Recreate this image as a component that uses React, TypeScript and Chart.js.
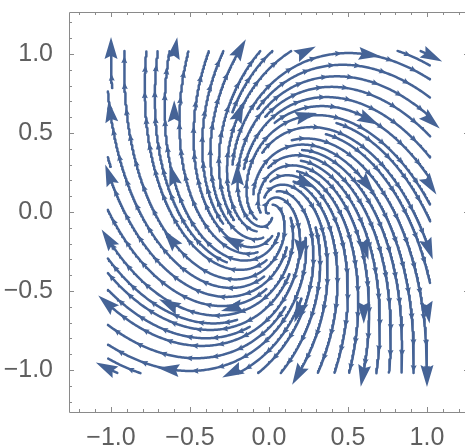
import React, { useEffect, useRef } from "react";
import { Chart, registerables } from "chart.js";

Chart.register(...registerables);

// Vector field read from the arrow directions: v = (a0*x + a1*y, b0*x + b1*y)
const fieldXCoef = [1, 1];
const fieldYCoef = [-2, 1];
// Positions (both axes) where the large arrows sit
const markerGrid = [-1, -0.6, -0.2, 0.2, 0.6, 1];
// Axis
const tickValues = [-1, -0.5, 0, 0.5, 1];
const axisRange = [-1.266, 1.266];
const streamDomain = [-1.02, 1.02];

const LINE_COLOR = "rgb(69,99,150)";
const CANVAS_W = 476;
const CANVAS_H = 447;

function field(x: number, y: number): [number, number] {
  return [fieldXCoef[0] * x + fieldXCoef[1] * y, fieldYCoef[0] * x + fieldYCoef[1] * y];
}

function dirAt(x: number, y: number): [number, number] | null {
  const [vx, vy] = field(x, y);
  const m = Math.hypot(vx, vy);
  if (m < 1e-7) return null;
  return [vx / m, vy / m];
}

function computeStreamlines(): { x: number; y: number }[][] {
  const dsep = 0.07;
  const dtest = 0.034;
  const h = 0.004;
  const lo = streamDomain[0];
  const hi = streamDomain[1];
  const cell = dsep;
  const n = Math.ceil((hi - lo) / cell) + 2;
  const buckets: number[][] = Array.from({ length: n * n }, () => []);
  const ci = (v: number) => Math.max(0, Math.min(n - 1, Math.floor((v - lo) / cell)));
  const insert = (x: number, y: number) => {
    buckets[ci(x) + ci(y) * n].push(x, y);
  };
  const near = (x: number, y: number, d: number) => {
    const i = ci(x);
    const j = ci(y);
    const d2 = d * d;
    for (let di = -1; di <= 1; di++) {
      for (let dj = -1; dj <= 1; dj++) {
        const ii = i + di;
        const jj = j + dj;
        if (ii < 0 || jj < 0 || ii >= n || jj >= n) continue;
        const b = buckets[ii + jj * n];
        for (let k = 0; k < b.length; k += 2) {
          const dx = b[k] - x;
          const dy = b[k + 1] - y;
          if (dx * dx + dy * dy < d2) return true;
        }
      }
    }
    return false;
  };
  const inDomain = (x: number, y: number) => x >= lo && x <= hi && y >= lo && y <= hi;

  const trace = (sx: number, sy: number, s: number) => {
    const out: [number, number][] = [];
    let x = sx;
    let y = sy;
    for (let k = 0; k < 5000; k++) {
      const d1 = dirAt(x, y);
      if (!d1) break;
      const mx = x + s * h * 0.5 * d1[0];
      const my = y + s * h * 0.5 * d1[1];
      const d2 = dirAt(mx, my);
      if (!d2) break;
      if (d1[0] * d2[0] + d1[1] * d2[1] < 0.5) break;
      const nx = x + s * h * d2[0];
      const ny = y + s * h * d2[1];
      if (!inDomain(nx, ny)) break;
      if (Math.hypot(nx, ny) < 0.008) break;
      if (near(nx, ny, dtest)) break;
      out.push([nx, ny]);
      x = nx;
      y = ny;
    }
    return out;
  };

  const makeLine = (sx: number, sy: number) => {
    const back = trace(sx, sy, -1).reverse();
    const fwd = trace(sx, sy, 1);
    const pts: [number, number][] = [...back, [sx, sy], ...fwd];
    if (pts.length * h < 0.04) return null;
    pts.forEach((p) => insert(p[0], p[1]));
    return pts;
  };

  const lines: [number, number][][] = [];
  for (const gx of markerGrid) {
    for (const gy of markerGrid) {
      if (!near(gx, gy, dsep)) {
        const l = makeLine(gx, gy);
        if (l) lines.push(l);
      }
    }
  }
  let qi = 0;
  while (qi < lines.length) {
    const l = lines[qi++];
    for (let k = 0; k < l.length; k += 3) {
      const [x, y] = l[k];
      const d = dirAt(x, y);
      if (!d) continue;
      for (const s of [1, -1]) {
        const cx = x - s * d[1] * dsep;
        const cy = y + s * d[0] * dsep;
        if (inDomain(cx, cy) && !near(cx, cy, dsep * 0.98)) {
          const nl = makeLine(cx, cy);
          if (nl) lines.push(nl);
        }
      }
    }
  }
  return lines.map((l) => {
    const out: { x: number; y: number }[] = [];
    for (let k = 0; k < l.length; k += 2) out.push({ x: l[k][0], y: l[k][1] });
    const last = l[l.length - 1];
    out.push({ x: last[0], y: last[1] });
    return out;
  });
}

function drawHead(
  ctx: CanvasRenderingContext2D,
  tx: number,
  ty: number,
  ux: number,
  uy: number,
  L: number,
  W: number,
  notch: number
) {
  const nx = -uy;
  const ny = ux;
  ctx.beginPath();
  ctx.moveTo(tx, ty);
  ctx.lineTo(tx - L * ux + W * nx, ty - L * uy + W * ny);
  ctx.lineTo(tx - notch * L * ux, ty - notch * L * uy);
  ctx.lineTo(tx - L * ux - W * nx, ty - L * uy - W * ny);
  ctx.closePath();
  ctx.fill();
}

function fmt(v: number) {
  const s = Math.abs(v).toFixed(1);
  return v < -1e-9 ? "\u2212" + s : s;
}

export default function App() {
  const ref = useRef<HTMLCanvasElement>(null);
  useEffect(() => {
    if (!ref.current) return;
    const lines = computeStreamlines();
    const datasets = lines.map((l) => ({
      data: l,
      showLine: true,
      borderColor: LINE_COLOR,
      backgroundColor: LINE_COLOR,
      borderWidth: 2.5,
      pointRadius: 0,
      pointHoverRadius: 0,
      borderCapStyle: "round" as const,
      borderJoinStyle: "round" as const,
      fill: false,
      tension: 0,
    }));

    const arrowPlugin = {
      id: "streamArrows",
      afterDatasetsDraw(chart: any) {
        const ctx: CanvasRenderingContext2D = chart.ctx;
        const xs = chart.scales.x;
        const ys = chart.scales.y;
        ctx.save();
        ctx.fillStyle = LINE_COLOR;
        const spacing = 26;
        chart.data.datasets.forEach((ds: any) => {
          const pts = ds.data.map((p: any) => [xs.getPixelForValue(p.x), ys.getPixelForValue(p.y)]);
          let acc = 0;
          let next = spacing * 0.55;
          for (let i = 1; i < pts.length; i++) {
            const dx = pts[i][0] - pts[i - 1][0];
            const dy = pts[i][1] - pts[i - 1][1];
            const seg = Math.hypot(dx, dy);
            if (seg < 1e-6) continue;
            while (acc + seg >= next) {
              const t = (next - acc) / seg;
              const px = pts[i - 1][0] + dx * t;
              const py = pts[i - 1][1] + dy * t;
              drawHead(ctx, px, py, dx / seg, dy / seg, 7, 3, 0.85);
              next += spacing;
            }
            acc += seg;
          }
        });
        // large arrows
        for (const gx of markerGrid) {
          for (const gy of markerGrid) {
            const [vx, vy] = field(gx, gy);
            const m = Math.hypot(vx, vy);
            if (m < 1e-7) continue;
            const ux = vx / m;
            const uy = -vy / m;
            const px = xs.getPixelForValue(gx);
            const py = ys.getPixelForValue(gy);
            drawHead(ctx, px + ux * 17, py + uy * 17, ux, uy, 22, 6.5, 0.85);
          }
        }
        ctx.restore();
      },
    };

    const framePlugin = {
      id: "frame",
      afterDraw(chart: any) {
        const ctx: CanvasRenderingContext2D = chart.ctx;
        const { left, right, top, bottom } = chart.chartArea;
        const xs = chart.scales.x;
        const ys = chart.scales.y;
        ctx.save();
        ctx.strokeStyle = "#8a8a8a";
        ctx.lineWidth = 1;
        ctx.beginPath();
        ctx.moveTo(left + 0.5, top + 0.5);
        ctx.lineTo(right + 0.5, top + 0.5);
        ctx.lineTo(right + 0.5, bottom + 0.5);
        ctx.lineTo(left + 0.5, bottom + 0.5);
        ctx.closePath();
        ctx.stroke();
        ctx.beginPath();
        for (let i = -12; i <= 12; i++) {
          const v = i / 10;
          const len = i % 5 === 0 ? 5 : 3;
          const px = Math.round(xs.getPixelForValue(v)) + 0.5;
          ctx.moveTo(px, bottom);
          ctx.lineTo(px, bottom - len);
          ctx.moveTo(px, top);
          ctx.lineTo(px, top + len);
          const py = Math.round(ys.getPixelForValue(v)) + 0.5;
          ctx.moveTo(left, py);
          ctx.lineTo(left + len, py);
          ctx.moveTo(right, py);
          ctx.lineTo(right - len, py);
        }
        ctx.stroke();
        ctx.restore();
      },
    };

    const tickFont = { family: "'Liberation Sans', Arial, sans-serif", size: 25 };
    const chart = new Chart(ref.current, {
      type: "scatter",
      data: { datasets },
      options: {
        responsive: false,
        devicePixelRatio: 1,
        animation: false,
        events: [],
        layout: { padding: { left: 0, right: CANVAS_W - 469, top: 12, bottom: 0 } },
        plugins: { legend: { display: false }, tooltip: { enabled: false } },
        scales: {
          x: {
            type: "linear",
            min: axisRange[0],
            max: axisRange[1],
            grid: { display: false },
            border: { display: false },
            afterBuildTicks: (scale: any) => {
              scale.ticks = tickValues.map((v) => ({ value: v }));
            },
            afterFit: (scale: any) => {
              scale.height = 35;
              scale.paddingLeft = 0;
              scale.paddingRight = 0;
            },
            ticks: {
              autoSkip: false,
              maxRotation: 0,
              padding: 3,
              color: "#5f5f5f",
              font: tickFont,
              callback: (v: any) => fmt(Number(v)),
            },
          },
          y: {
            type: "linear",
            min: axisRange[0],
            max: axisRange[1],
            grid: { display: false },
            border: { display: false },
            afterBuildTicks: (scale: any) => {
              scale.ticks = tickValues.map((v) => ({ value: v }));
            },
            afterFit: (scale: any) => {
              scale.width = 69;
              scale.paddingTop = 0;
              scale.paddingBottom = 0;
            },
            ticks: {
              autoSkip: false,
              padding: 8,
              color: "#5f5f5f",
              font: tickFont,
              callback: (v: any) => fmt(Number(v)),
            },
          },
        },
      },
      plugins: [arrowPlugin, framePlugin],
    } as any);
    return () => chart.destroy();
  }, []);

  return (
    <div
      style={{
        position: "fixed",
        left: 0,
        top: 0,
        width: 465,
        height: 447,
        overflow: "hidden",
        background: "#fff",
      }}
    >
      <canvas
        ref={ref}
        width={CANVAS_W}
        height={CANVAS_H}
        style={{ display: "block", width: CANVAS_W, height: CANVAS_H }}
      />
    </div>
  );
}
